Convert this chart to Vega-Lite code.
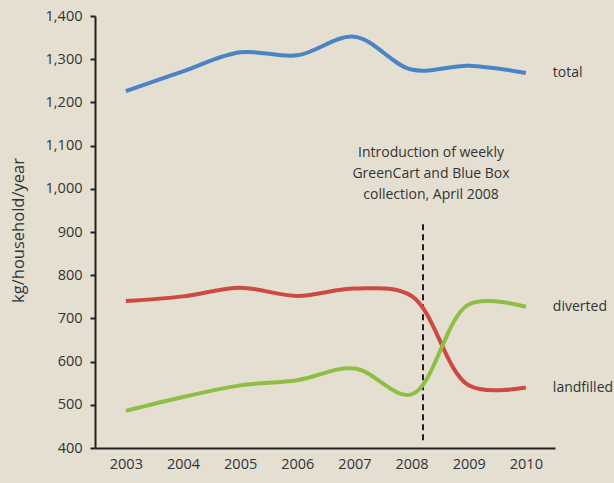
{
  "$schema": "https://vega.github.io/schema/vega-lite/v6.json",
  "width": 460,
  "height": 432,
  "autosize": {"type": "none"},
  "padding": {"left": 95, "top": 16, "right": 59, "bottom": 35},
  "background": "#e5dfd1",
  "config": {
    "view": {"stroke": null},
    "font": "Open Sans",
    "axis": {
      "domainColor": "#231f20",
      "domainWidth": 2,
      "tickColor": "#231f20",
      "tickWidth": 2,
      "labelColor": "#333333",
      "labelFont": "Open Sans",
      "labelFontSize": 14.5,
      "grid": false,
      "titleFont": "Open Sans",
      "titleFontWeight": "normal",
      "titleColor": "#333333"
    }
  },
  "datasets": {
    "series": [
      {"year": 2003, "series": "total", "value": 1226},
      {"year": 2004, "series": "total", "value": 1272},
      {"year": 2005, "series": "total", "value": 1316},
      {"year": 2006, "series": "total", "value": 1309},
      {"year": 2007, "series": "total", "value": 1352},
      {"year": 2008, "series": "total", "value": 1276},
      {"year": 2009, "series": "total", "value": 1285},
      {"year": 2010, "series": "total", "value": 1268},
      {"year": 2003, "series": "landfilled", "value": 740},
      {"year": 2004, "series": "landfilled", "value": 751},
      {"year": 2005, "series": "landfilled", "value": 771},
      {"year": 2006, "series": "landfilled", "value": 752},
      {"year": 2007, "series": "landfilled", "value": 769},
      {"year": 2008, "series": "landfilled", "value": 752},
      {"year": 2009, "series": "landfilled", "value": 545},
      {"year": 2010, "series": "landfilled", "value": 540},
      {"year": 2003, "series": "diverted", "value": 486},
      {"year": 2004, "series": "diverted", "value": 518},
      {"year": 2005, "series": "diverted", "value": 545},
      {"year": 2006, "series": "diverted", "value": 557},
      {"year": 2007, "series": "diverted", "value": 584},
      {"year": 2008, "series": "diverted", "value": 524},
      {"year": 2009, "series": "diverted", "value": 732},
      {"year": 2010, "series": "diverted", "value": 727}
    ],
    "marker": [{"year": 2008.2, "low": 418, "high": 922}],
    "note": [{"year": 2008.34, "value": 1084, "text": "Introduction of weekly\nGreenCart and Blue Box\ncollection, April 2008"}]
  },
  "layer": [
    {
      "data": {"name": "marker"},
      "mark": {"type": "rule", "strokeDash": [6, 4], "strokeWidth": 2, "color": "#231f20"},
      "encoding": {
        "x": {"field": "year", "type": "quantitative",
          "scale": {"domain": [2002.46, 2010.51], "nice": false, "zero": false},
          "axis": {"values": [2003, 2004, 2005, 2006, 2007, 2008, 2009, 2010], "format": "d", "title": null, "ticks": false, "labelPadding": 9}},
        "y": {"field": "low", "type": "quantitative",
          "scale": {"domain": [400, 1400], "nice": false, "zero": false},
          "axis": {"values": [400, 500, 600, 700, 800, 900, 1000, 1100, 1200, 1300, 1400], "format": ",d", "tickSize": 5, "labelPadding": 8,
            "title": "kg/household/year", "titleFontSize": 16.5, "titleAngle": -90, "titleX": -77, "titleY": 214, "titleAlign": "center", "titleBaseline": "middle"}},
        "y2": {"field": "high"}
      }
    },
    {
      "data": {"name": "series"},
      "mark": {"type": "line", "strokeWidth": 4, "interpolate": "catmull-rom"},
      "encoding": {
        "x": {"field": "year", "type": "quantitative"},
        "y": {"field": "value", "type": "quantitative"},
        "color": {"field": "series", "type": "nominal", "legend": null,
          "scale": {"domain": ["total", "landfilled", "diverted"], "range": ["#4a84c6", "#cc4a43", "#8dbf45"]}}
      }
    },
    {
      "data": {"name": "series"},
      "transform": [{"filter": "datum.year == 2010"}],
      "mark": {"type": "text", "align": "left", "baseline": "middle", "dx": 27, "fontSize": 14, "color": "#333333"},
      "encoding": {
        "x": {"field": "year", "type": "quantitative"},
        "y": {"field": "value", "type": "quantitative"},
        "text": {"field": "series"}
      }
    },
    {
      "data": {"name": "note"},
      "mark": {"type": "text", "align": "center", "baseline": "middle", "lineBreak": "\n", "lineHeight": 21, "fontSize": 14, "color": "#333333"},
      "encoding": {
        "x": {"field": "year", "type": "quantitative"},
        "y": {"field": "value", "type": "quantitative"},
        "text": {"field": "text"}
      }
    }
  ]
}
